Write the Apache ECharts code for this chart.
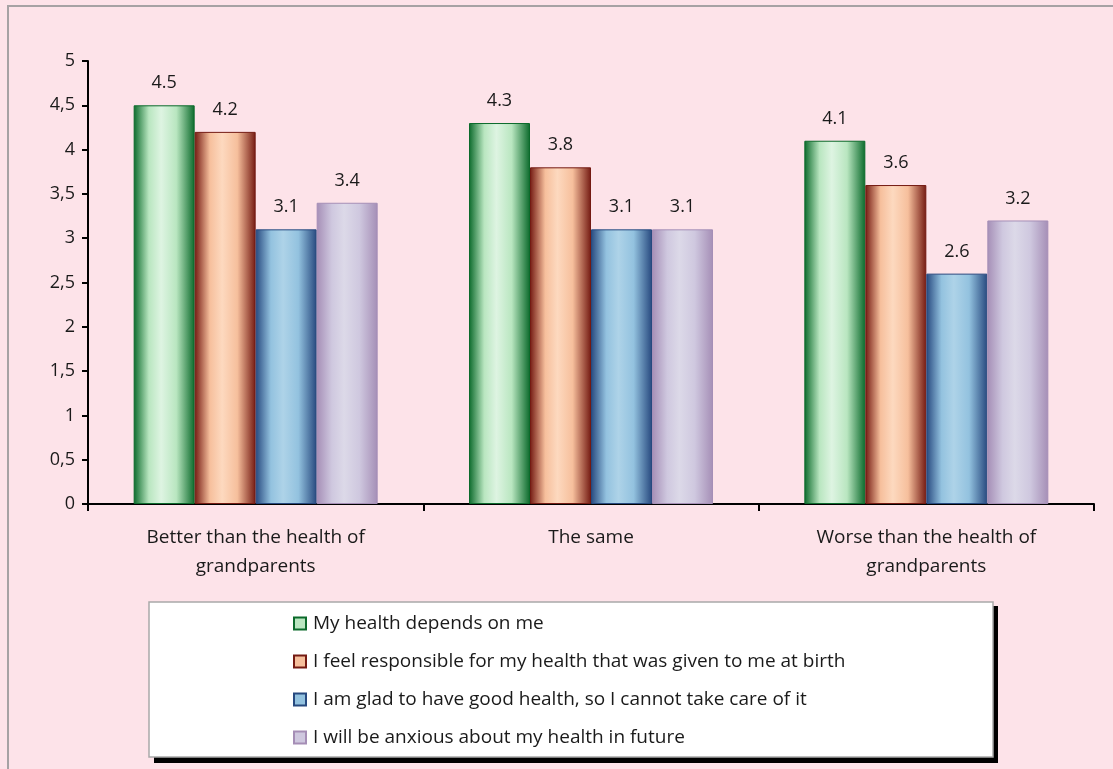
<!DOCTYPE html>
<html>
<head>
<meta charset="utf-8">
<script src="https://cdn.jsdelivr.net/npm/echarts@6/dist/echarts.min.js"></script>
<style>
html, body { margin: 0; padding: 0; background: #fde3e9; }
#main { width: 1113px; height: 769px; }
</style>
</head>
<body>
<div id="main"></div>
<script>
// categories and values
var categories = [
  'Better than the health of\ngrandparents',
  'The same',
  'Worse than the health of\ngrandparents'
];
var seriesNames = [
  'My health depends on me',
  'I feel responsible for my health that was given to me at birth',
  'I am glad to have good health, so I cannot take care of it',
  'I will be anxious about my health in future'
];
var dependsOnMe = [4.5, 4.3, 4.1];
var responsible = [4.2, 3.8, 3.6];
var gladGoodHealth = [3.1, 3.1, 2.6];
var anxiousFuture = [3.4, 3.1, 3.2];
var yTicks = [0, 0.5, 1, 1.5, 2, 2.5, 3, 3.5, 4, 4.5, 5];

// edge / mid colours of the cylinder-like bars
var palette = [
  { dark: '#0b6a2b', mid: '#b9e6c0', light: '#def4e2' },
  { dark: '#741a12', mid: '#f6bf9c', light: '#fdd9bf' },
  { dark: '#27497f', mid: '#93c2df', light: '#aed3e8' },
  { dark: '#a58eb6', mid: '#cfc8df', light: '#dcd9e8' }
];

function barGradient(p) {
  return new echarts.graphic.LinearGradient(0, 0, 1, 0, [
    { offset: 0, color: p.dark },
    { offset: 0.25, color: p.mid },
    { offset: 0.45, color: p.light },
    { offset: 0.7, color: p.mid },
    { offset: 1, color: p.dark }
  ]);
}

var font = '"Open Sans", Lato, sans-serif';
var allData = [dependsOnMe, responsible, gladGoodHealth, anxiousFuture];

var series = allData.map(function (d, i) {
  return {
    name: seriesNames[i],
    type: 'bar',
    data: d,
    barWidth: 61,
    barGap: '0%',
    itemStyle: {
      color: barGradient(palette[i]),
      borderColor: palette[i].dark,
      borderWidth: 1
    },
    label: {
      show: true,
      position: 'top',
      distance: 13,
      fontFamily: font,
      fontSize: 18,
      color: '#1a1a1a',
      formatter: function (p) { return p.value.toFixed(1); }
    }
  };
});

var myChart = echarts.init(document.getElementById('main'));
myChart.setOption({
  backgroundColor: '#fde3e9',
  animation: false,
  graphic: [
    { type: 'rect', shape: { x: 8, y: 6, width: 1120, height: 780 },
      style: { fill: 'none', stroke: '#a6a2a4', lineWidth: 2 }, z: -1 },
    { type: 'rect', shape: { x: 154, y: 606, width: 844, height: 157 },
      style: { fill: '#000' }, z: 0 },
    { type: 'rect', shape: { x: 149, y: 602, width: 844, height: 155 },
      style: { fill: '#fff', stroke: '#a9a9a9', lineWidth: 1.5 }, z: 0 }
  ],
  grid: { left: 88, right: 19, top: 61, bottom: 265 },
  legend: {
    orient: 'vertical',
    left: 288,
    top: 609,
    itemWidth: 12,
    itemHeight: 12,
    itemGap: 19,
    z: 10,
    textStyle: { fontFamily: font, fontSize: 19, color: '#1a1a1a', padding: [0, 0, 0, 2] },
    data: seriesNames.map(function (n, i) {
      return {
        name: n,
        icon: 'rect',
        itemStyle: { color: palette[i].mid, borderColor: palette[i].dark, borderWidth: 2 }
      };
    })
  },
  xAxis: {
    type: 'category',
    data: categories,
    axisLine: { lineStyle: { color: '#000', width: 2 } },
    axisTick: { show: true, length: 7, lineStyle: { color: '#000', width: 2 } },
    axisLabel: {
      margin: 19,
      fontFamily: font,
      fontSize: 19,
      lineHeight: 29,
      color: '#1a1a1a'
    }
  },
  yAxis: {
    type: 'value',
    min: yTicks[0],
    max: yTicks[yTicks.length - 1],
    interval: 0.5,
    splitLine: { show: false },
    axisLine: { show: true, lineStyle: { color: '#000', width: 2 } },
    axisTick: { show: true, length: 6, lineStyle: { color: '#000', width: 2 } },
    axisLabel: {
      margin: 13,
      fontFamily: font,
      fontSize: 18,
      color: '#1a1a1a',
      formatter: function (v) { return String(v).replace('.', ','); }
    }
  },
  series: series
});
</script>
</body>
</html>
